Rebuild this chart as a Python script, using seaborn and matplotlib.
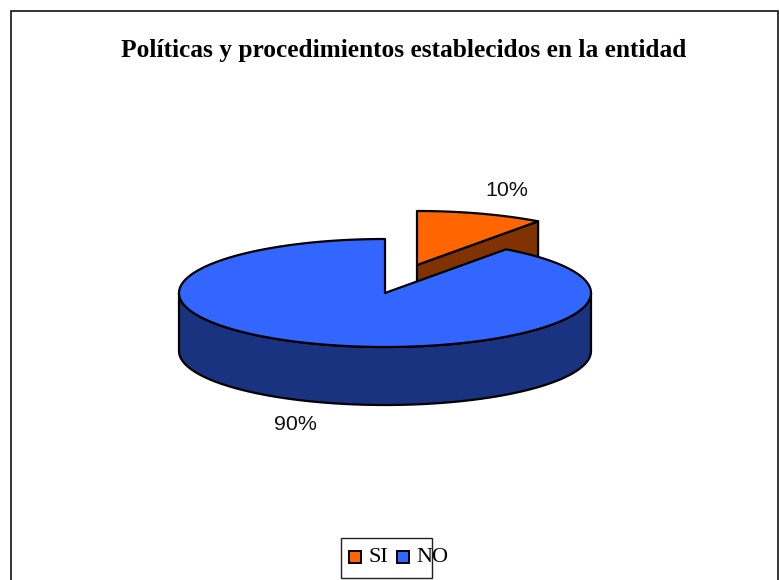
import numpy as np
import matplotlib
matplotlib.use("Agg")
import matplotlib.pyplot as plt
from matplotlib.patches import Polygon, Rectangle
import seaborn as sns

categories = ["SI", "NO"]
values = [10, 90]
pct_labels = ["10%", "90%"]
title = "Políticas y procedimientos establecidos en la entidad"
top_colors = ["#FF6600", "#3366FF"]
side_colors = ["#803300", "#1A3380"]

sns.set_theme(style="white")
W, H = 779, 580
fig = plt.figure(figsize=(W / 100, H / 100), dpi=100)
ax = fig.add_axes([0, 0, 1, 1])
ax.set_xlim(0, W)
ax.set_ylim(H, 0)
ax.axis("off")

RX, RY, DEPTH = 206, 54, 58
CENTERS = [(417, 265), (385, 293)]
EDGE = dict(edgecolor="black", linewidth=1.6, joinstyle="round")


def rim(cx, cy, a0, a1, n=200):
    t = np.radians(np.linspace(a0, a1, n))
    return np.column_stack([cx + RX * np.sin(t), cy - RY * np.cos(t)])


# the 3D pie: angles run clockwise from 12 o'clock
fracs = np.array(values, dtype=float) / sum(values)
ends = np.cumsum(fracs) * 360
starts = ends - fracs * 360

# exploded SI slice: cut face, then top
cx, cy = CENTERS[0]
tip = rim(cx, cy, ends[0], ends[0], 1)[0]
ax.add_patch(Polygon([(cx, cy), tip, tip + (0, DEPTH), (cx, cy + DEPTH)],
                     closed=True, facecolor=side_colors[0], zorder=2, **EDGE))
ax.add_patch(Polygon(np.vstack([[(cx, cy)], rim(cx, cy, starts[0], ends[0])]),
                     closed=True, facecolor=top_colors[0], zorder=3, **EDGE))

# NO slice: outer wall (front half), then top
cx, cy = CENTERS[1]
front = rim(cx, cy, 90, 270)
ax.add_patch(Polygon(np.vstack([front, (front + (0, DEPTH))[::-1]]),
                     closed=True, facecolor=side_colors[1], zorder=4, **EDGE))
ax.add_patch(Polygon(np.vstack([[(cx, cy)], rim(cx, cy, starts[1], ends[1])]),
                     closed=True, facecolor=top_colors[1], zorder=5, **EDGE))

# text
ax.text(403.5, 51, title, family="Liberation Serif", weight="bold", fontsize=18.3,
        color="black", ha="center", va="center")
ax.text(507, 191, pct_labels[0], family="Liberation Sans", fontsize=15.4,
        color="#111111", ha="center", va="center")
ax.text(295, 425, pct_labels[1], family="Liberation Sans", fontsize=15.4,
        color="#111111", ha="center", va="center")

# chart frame (open at the bottom edge of the picture)
ax.plot([11, 11, 778, 778], [H + 2, 11, 11, H + 2], color="#111111", lw=1.2,
        solid_joinstyle="miter", zorder=6)

# legend
ax.add_patch(Rectangle((341.5, 537.5), 91, 40, facecolor="white",
                       edgecolor="#222222", linewidth=1, zorder=6))
for x0, tx, c, lab in zip([349, 397], [369, 416], top_colors, categories):
    ax.add_patch(Rectangle((x0, 551), 12.5, 12, facecolor=c, edgecolor="black",
                           linewidth=1.4, zorder=7))
    ax.text(tx, 557, lab, family="Liberation Serif", fontsize=16,
            color="black", ha="left", va="center", zorder=7)

fig.savefig("out.png", dpi=100, facecolor="white")
